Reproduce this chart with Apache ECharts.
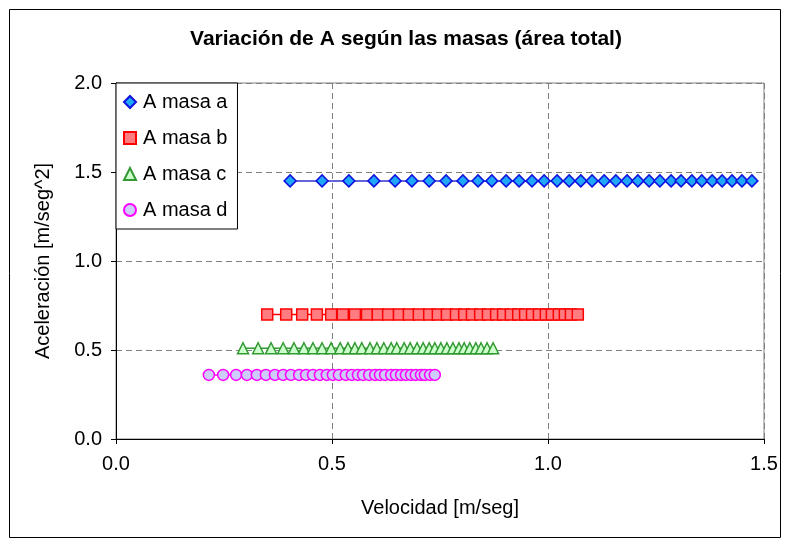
<!DOCTYPE html>
<html>
<head>
<meta charset="utf-8">
<script src="https://cdn.jsdelivr.net/npm/echarts@6/dist/echarts.min.js"></script>
<style>html,body{margin:0;padding:0;background:#fff}#c{width:790px;height:547px}</style>
</head>
<body>
<div id="c"></div>
<script>
var seriesNames = ['A masa a', 'A masa b', 'A masa c', 'A masa d'];
var xTicks = [0, 0.5, 1.0, 1.5];
var yTicks = [0, 0.5, 1.0, 1.5, 2.0];

var velA = [0.403,0.477,0.539,0.597,0.646,0.685,0.725,0.764,0.803,0.838,0.870,0.903,0.933,0.963,0.991,1.021,1.049,1.076,1.102,1.130,1.157,1.183,1.208,1.234,1.259,1.285,1.308,1.333,1.356,1.380,1.403,1.426,1.449,1.472];
var accA = 1.45;
var velB = [0.350,0.394,0.431,0.465,0.498,0.525,0.553,0.581,0.606,0.630,0.655,0.678,0.701,0.725,0.745,0.766,0.787,0.806,0.824,0.843,0.861,0.880,0.896,0.914,0.931,0.947,0.963,0.979,0.995,1.009,1.025,1.039,1.053,1.069];
var accB = 0.70;
var velC = [0.294,0.329,0.359,0.387,0.412,0.435,0.456,0.477,0.498,0.519,0.537,0.553,0.569,0.588,0.604,0.620,0.637,0.650,0.667,0.681,0.697,0.711,0.725,0.738,0.752,0.766,0.780,0.794,0.806,0.819,0.833,0.845,0.859,0.873];
var accC = 0.51;
var velD = [0.215,0.248,0.278,0.303,0.326,0.347,0.368,0.387,0.405,0.424,0.440,0.456,0.472,0.488,0.502,0.516,0.532,0.546,0.560,0.572,0.586,0.600,0.611,0.623,0.637,0.648,0.660,0.671,0.683,0.694,0.706,0.715,0.727,0.738];
var accD = 0.36;

function pairs(v, a) { return v.map(function (x) { return [x, a]; }); }

var FONT = 'Liberation Sans, Arial, sans-serif';
var FS = 20;
var styles = [
  {symbol: 'diamond', size: 12, line: '#3333CC', fill: '#20A8F8', border: '#1010E0'},
  {symbol: 'rect', size: 11, line: '#FF0000', fill: '#FF7C80', border: '#FF0000'},
  {symbol: 'triangle', size: 11, line: '#339933', fill: '#CCFFCC', border: '#339933'},
  {symbol: 'circle', size: 11, line: '#FF00FF', fill: '#CCCCFF', border: '#FF00FF'}
];
var datasets = [pairs(velA, accA), pairs(velB, accB), pairs(velC, accC), pairs(velD, accD)];

var chart = echarts.init(document.getElementById('c'), null, {renderer: 'canvas'});
chart.setOption({
  animation: false,
  backgroundColor: '#fff',
  title: {
    text: 'Variación de A según las masas (área total)',
    left: 406, top: 29, textAlign: 'center', padding: 0,
    textStyle: {fontFamily: FONT, fontSize: 21, fontWeight: 'bold', color: '#000'}
  },
  graphic: [{
    type: 'rect', shape: {x: 9.5, y: 9.5, width: 771, height: 528},
    style: {fill: 'none', stroke: '#000', lineWidth: 1}, silent: true, z: 100
  }],
  legend: {
    orient: 'vertical', left: 116, top: 83,
    backgroundColor: '#fff', borderColor: '#000', borderWidth: 1,
    padding: [9, 10, 9, 7], itemGap: 16, itemWidth: 12, itemHeight: 12,
    textStyle: {fontFamily: FONT, fontSize: FS, color: '#000', padding: [0, 0, 0, 2]},
    data: seriesNames.map(function (n, i) { return {name: n, icon: styles[i].symbol}; }),
    z: 10
  },
  grid: {left: 116, right: 26, top: 83, bottom: 108, show: true, borderColor: '#808080', borderWidth: 1},
  xAxis: {
    type: 'value', min: 0, max: 1.5, interval: 0.5,
    name: 'Velocidad [m/seg]', nameLocation: 'middle', nameGap: 59,
    nameTextStyle: {fontFamily: FONT, fontSize: FS, color: '#000'},
    axisLine: {show: true, onZero: false, lineStyle: {color: '#000', width: 1}},
    axisTick: {show: true, length: 5, lineStyle: {color: '#000'}},
    axisLabel: {margin: 15, fontFamily: FONT, fontSize: FS, color: '#000', formatter: function (v) { return v.toFixed(1); }},
    splitLine: {show: true, lineStyle: {color: '#808080', type: [6, 4], width: 1}}
  },
  yAxis: {
    type: 'value', min: 0, max: 2, interval: 0.5,
    name: 'Aceleración [m/seg^2]', nameLocation: 'middle', nameGap: 63, nameRotate: 90,
    nameTextStyle: {fontFamily: FONT, fontSize: FS, color: '#000'},
    axisLine: {show: true, onZero: false, lineStyle: {color: '#000', width: 1}},
    axisTick: {show: true, length: 5, lineStyle: {color: '#000'}},
    axisLabel: {margin: 14, fontFamily: FONT, fontSize: FS, color: '#000', formatter: function (v) { return v.toFixed(1); }},
    splitLine: {show: true, lineStyle: {color: '#808080', type: [6, 4], width: 1}}
  },
  series: datasets.map(function (d, i) {
    var s = styles[i];
    return {
      name: seriesNames[i], type: 'line', data: d,
      symbol: s.symbol, symbolSize: s.size, showSymbol: true, showAllSymbol: true,
      lineStyle: {color: s.line, width: 1.5},
      itemStyle: {color: s.fill, borderColor: s.border, borderWidth: 1.5},
      emphasis: {disabled: true}, z: 2 + i
    };
  })
});
</script>
</body>
</html>
